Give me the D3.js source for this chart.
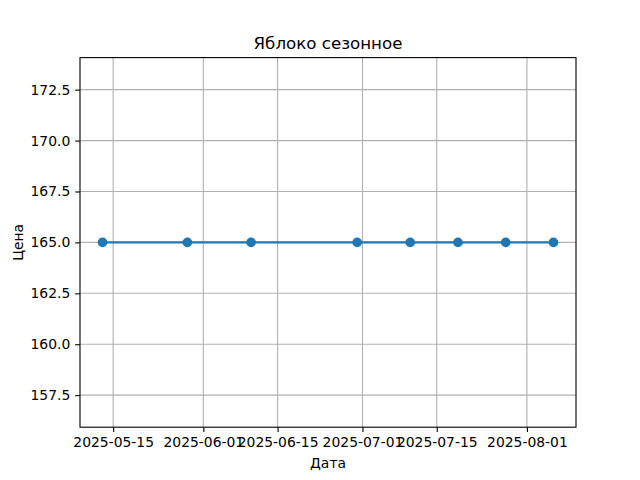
<!DOCTYPE html>
<html><head><meta charset="utf-8">
<script src="https://cdn.jsdelivr.net/npm/d3@7"></script>
<style>body{margin:0;background:#fff}svg{display:block;font-family:"DejaVu Sans",sans-serif}</style>
</head><body>
<script>
const dates = ["2025-05-13","2025-05-29","2025-06-10","2025-06-30","2025-07-10","2025-07-19","2025-07-28","2025-08-06"];
const prices = [165,165,165,165,165,165,165,165];
const xTickDates = ["2025-05-15","2025-06-01","2025-06-15","2025-07-01","2025-07-15","2025-08-01"];
const yTicks = [157.5,160.0,162.5,165.0,167.5,170.0,172.5];
const title = "Яблоко сезонное";
const xLabel = "Дата";
const yLabel = "Цена";

const W=640,H=480, L=80,R=576,T=57.6,B=427.2;
const parse = d3.utcParse("%Y-%m-%d");
const data = dates.map((d,i)=>({date:parse(d), v:prices[i]}));
const svg = d3.select("body").append("svg").attr("width",W).attr("height",H);

const ext = d3.extent(data,d=>d.date);
const span = ext[1]-ext[0];
const x = d3.scaleUtc().domain([new Date(+ext[0]-span*0.05), new Date(+ext[1]+span*0.05)]).range([L,R]);
const y = d3.scaleLinear().domain([155.925,174.075]).range([B,T]);

// grid
const g = svg.append("g");
g.selectAll(".gx").data(xTickDates.map(parse)).enter().append("line")
 .attr("x1",d=>x(d)).attr("x2",d=>x(d)).attr("y1",T).attr("y2",B)
 .attr("stroke","#b0b0b0").attr("stroke-width",1.1);
g.selectAll(".gy").data(yTicks).enter().append("line")
 .attr("y1",d=>y(d)).attr("y2",d=>y(d)).attr("x1",L).attr("x2",R)
 .attr("stroke","#b0b0b0").attr("stroke-width",1.1);

// line and points
svg.append("path").datum(data)
 .attr("d", d3.line().x(d=>x(d.date)).y(d=>y(d.v)))
 .attr("fill","none").attr("stroke","#1f77b4").attr("stroke-width",2.08);
svg.selectAll(".pt").data(data).enter().append("circle")
 .attr("cx",d=>x(d.date)).attr("cy",d=>y(d.v)).attr("r",4.17)
 .attr("fill","#1f77b4").attr("stroke","#1f77b4").attr("stroke-width",1.39);

// axes
const fmt = d3.utcFormat("%Y-%m-%d");
const xa = svg.append("g").attr("transform",`translate(0,${B})`)
 .call(d3.axisBottom(x).tickValues(xTickDates.map(parse)).tickFormat(fmt).tickSize(4.86).tickPadding(4.86));
const ya = svg.append("g").attr("transform",`translate(${L},0)`)
 .call(d3.axisLeft(y).tickValues(yTicks).tickFormat(d3.format(".1f")).tickSize(4.86).tickPadding(4.86));
[xa,ya].forEach(a=>{
  a.select(".domain").remove();
  a.selectAll(".tick line").attr("stroke","#000").attr("stroke-width",1.1);
  a.selectAll("text").attr("font-size","13.9px").attr("font-family","DejaVu Sans").attr("fill","#000");
});
svg.append("rect").attr("x",L).attr("y",T).attr("width",R-L).attr("height",B-T)
 .attr("fill","none").attr("stroke","#000").attr("stroke-width",1.1);

svg.append("text").attr("x",(L+R)/2).attr("y",T-8.3).attr("text-anchor","middle")
 .attr("font-size","16.67px").text(title);
svg.append("text").attr("x",(L+R)/2).attr("y",468).attr("text-anchor","middle")
 .attr("font-size","13.9px").text(xLabel);
svg.append("text").attr("transform",`translate(23,${(T+B)/2}) rotate(-90)`).attr("text-anchor","middle")
 .attr("font-size","13.9px").text(yLabel);
</script>
</body></html>
